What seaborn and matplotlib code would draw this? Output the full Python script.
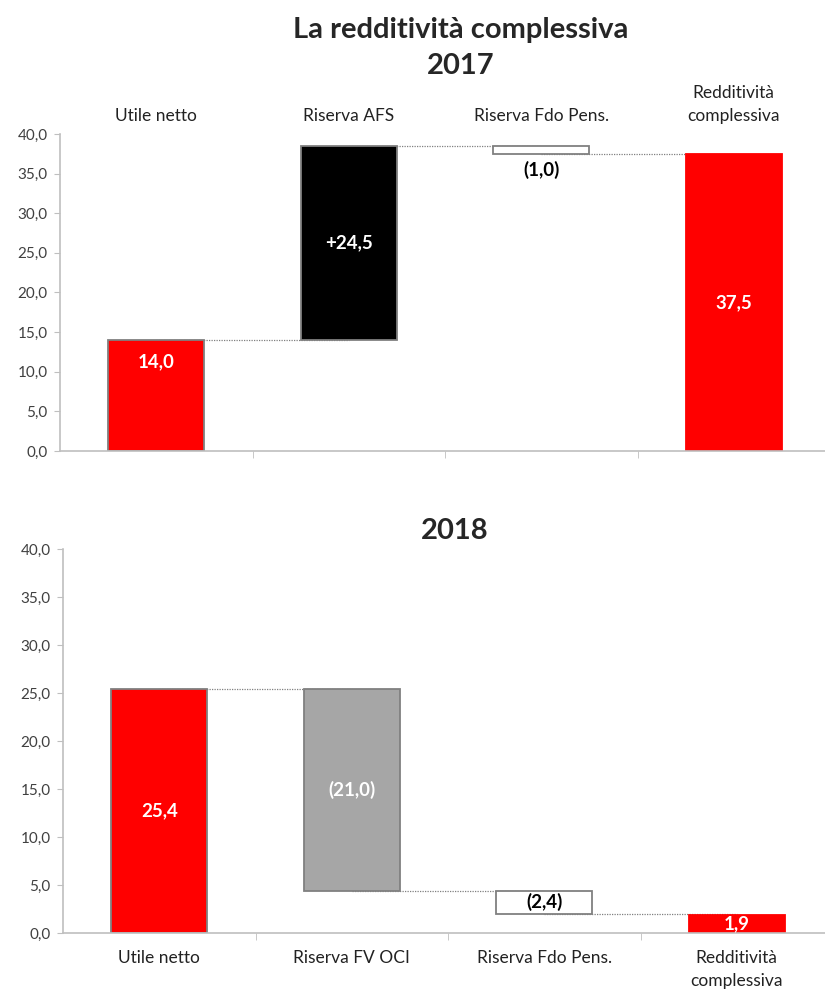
import numpy as np
import pandas as pd
import matplotlib.pyplot as plt
from matplotlib.ticker import FuncFormatter
import seaborn as sns

sns.set_style("white")
plt.rcParams['font.family'] = ['Lato', 'DejaVu Sans']

# data
title = "La redditività complessiva"
years = ["2017", "2018"]
cats_2017 = ["Utile netto", "Riserva AFS", "Riserva Fdo Pens.", "Redditività\ncomplessiva"]
cats_2018 = ["Utile netto", "Riserva FV OCI", "Riserva Fdo Pens.", "Redditività\ncomplessiva"]
kinds = ["total", "delta", "delta", "total"]
vals_2017 = [14.0, 24.5, -1.0, 37.5]
vals_2018 = [25.4, -21.0, -2.4, 1.9]
labels_2017 = ["14,0", "+24,5", "(1,0)", "37,5"]
labels_2018 = ["25,4", "(21,0)", "(2,4)", "1,9"]
colors_2017 = ["#FF0000", "#000000", "#FFFFFF", "#FF0000"]
colors_2018 = ["#FF0000", "#A6A6A6", "#FFFFFF", "#FF0000"]
yticks = [0, 5, 10, 15, 20, 25, 30, 35, 40]

GREY = "#BFBFBF"
TXT = "#404040"


def waterfall(ax, cats, vals, labels, colors, labels_top=False):
    bottoms, heights, levels = [], [], []
    run = 0.0
    for v, k in zip(vals, kinds):
        if k == "total":
            bottoms.append(0.0)
            heights.append(v)
            run = v
        else:
            bottoms.append(min(run, run + v))
            heights.append(abs(v))
            run = run + v
        levels.append(run)
    df = pd.DataFrame({"cat": cats, "height": heights, "bottom": bottoms})
    sns.barplot(data=df, x="cat", y="height", bottom=df["bottom"].to_numpy(),
                width=0.5, errorbar=None, ax=ax, color="#FF0000",
                edgecolor="#808080", linewidth=1.3, zorder=2)
    for i, (p, c) in enumerate(zip(ax.patches, colors)):
        p.set_facecolor(c)
        if i == len(colors) - 1:
            p.set_edgecolor(c)  # last total bar has no grey outline
    # connectors
    for i in range(len(cats) - 1):
        ax.plot([i, i + 1], [levels[i], levels[i]], ls=(0, (1, 1)), color="#808080",
                lw=0.9, zorder=1)
    # value labels
    for i, (b, h, lab, c) in enumerate(zip(bottoms, heights, labels, colors)):
        y = b + h / 2
        tc = "white" if c != "#FFFFFF" else "black"
        if c == "#FFFFFF" and h < 1.5 and labels_top:
            y = b - 2.0
        if i == 0 and labels_top:
            y = b + h - 2.8
        ax.text(i, y, lab, ha="center", va="center", color=tc,
                fontsize=13.5, fontweight="bold", zorder=3)

    ax.set_ylim(0, 40)
    ax.set_xlim(-0.5, len(cats) - 0.5)
    ax.set_yticks(yticks)
    ax.yaxis.set_major_formatter(FuncFormatter(lambda v, p: f"{v:.1f}".replace(".", ",")))
    ax.set_xlabel("")
    ax.set_ylabel("")
    sns.despine(ax=ax, top=True, right=True)
    for s in ["left", "bottom"]:
        ax.spines[s].set_color(GREY)
        ax.spines[s].set_linewidth(1.2)
    ax.tick_params(axis="y", left=True, length=4, color=GREY, labelsize=11,
                   labelcolor=TXT, pad=5)
    ax.set_xticks(np.arange(len(cats)))
    ax.set_xticklabels(cats)
    ax.set_xticks(np.arange(len(cats) - 1) + 0.5, minor=True)
    ax.tick_params(axis="x", which="minor", bottom=True, top=False, length=5, color=GREY)
    if labels_top:
        ax.tick_params(axis="x", which="major", length=0, top=False, bottom=False,
                       labeltop=True, labelbottom=False, labelsize=12.5, labelcolor="#222222", pad=7)
    else:
        ax.tick_params(axis="x", which="major", length=0, labelsize=12.5,
                       labelcolor="#222222", pad=12)
    for t in ax.get_xticklabels():
        t.set_linespacing(1.55)


fig = plt.figure(figsize=(8.25, 9.96), dpi=100)
W, H = 825, 996
ax1 = fig.add_axes([60 / W, (H - 451) / H, 770 / W, 317 / H])
ax2 = fig.add_axes([63 / W, (H - 933) / H, 770 / W, 384 / H])

waterfall(ax1, cats_2017, vals_2017, labels_2017, colors_2017, labels_top=True)
waterfall(ax2, cats_2018, vals_2018, labels_2018, colors_2018, labels_top=False)

fig.text(461 / W, 1 - 30 / H, title, ha="center", va="center", fontsize=21, fontweight="bold")
fig.text(461 / W, 1 - 66 / H, years[0], ha="center", va="center", fontsize=21, fontweight="bold")
fig.text(455 / W, 1 - 531 / H, years[1], ha="center", va="center", fontsize=21, fontweight="bold")

fig.savefig("out.png", dpi=100)
